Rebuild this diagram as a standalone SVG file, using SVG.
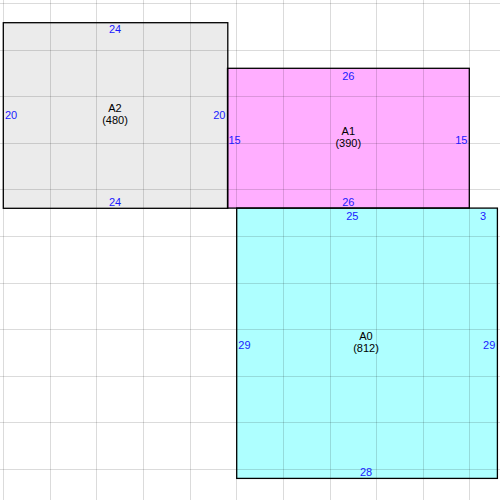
<svg xmlns="http://www.w3.org/2000/svg" width="500" height="500" viewBox="0 0 500 500">
<style>
.fill{stroke:none}
.border{fill:none;stroke:#000;stroke-width:1.3}
.grid line{stroke:#000;stroke-opacity:0.14;stroke-width:1}
text{font-family:"Liberation Sans",Arial,sans-serif;font-size:11px}
.dim{fill:#1a1aff}
.lbl{fill:#000;text-anchor:middle}
</style>
<rect width="500" height="500" fill="#fff"/>
<g id="fills">
<rect class="fill" x="3.3" y="22.7" width="224.5" height="185.6" fill="#ebebeb"/>
<rect class="fill" x="227.5" y="68.3" width="241.8" height="139.8" fill="#ffaeff"/>
<rect class="fill" x="236.7" y="208.1" width="260.7" height="270.3" fill="#aeffff"/>
</g>
<g class="grid">
<line x1="3.5" y1="0" x2="3.5" y2="500"/>
<line x1="50.5" y1="0" x2="50.5" y2="500"/>
<line x1="96.5" y1="0" x2="96.5" y2="500"/>
<line x1="143.5" y1="0" x2="143.5" y2="500"/>
<line x1="190.5" y1="0" x2="190.5" y2="500"/>
<line x1="236.5" y1="0" x2="236.5" y2="500"/>
<line x1="283.5" y1="0" x2="283.5" y2="500"/>
<line x1="330.5" y1="0" x2="330.5" y2="500"/>
<line x1="376.5" y1="0" x2="376.5" y2="500"/>
<line x1="423.5" y1="0" x2="423.5" y2="500"/>
<line x1="469.5" y1="0" x2="469.5" y2="500"/>
<line x1="0" y1="3.5" x2="500" y2="3.5"/>
<line x1="0" y1="50.5" x2="500" y2="50.5"/>
<line x1="0" y1="96.5" x2="500" y2="96.5"/>
<line x1="0" y1="143.5" x2="500" y2="143.5"/>
<line x1="0" y1="189.5" x2="500" y2="189.5"/>
<line x1="0" y1="236.5" x2="500" y2="236.5"/>
<line x1="0" y1="283.5" x2="500" y2="283.5"/>
<line x1="0" y1="329.5" x2="500" y2="329.5"/>
<line x1="0" y1="376.5" x2="500" y2="376.5"/>
<line x1="0" y1="422.5" x2="500" y2="422.5"/>
<line x1="0" y1="469.5" x2="500" y2="469.5"/>
</g>
<g id="A2">
<rect class="border" x="3.3" y="22.7" width="224.5" height="185.6"/>
<text class="dim" x="115" y="33" text-anchor="middle">24</text>
<text class="dim" x="115" y="205.5" text-anchor="middle">24</text>
<text class="dim" x="5" y="119">20</text>
<text class="dim" x="225.5" y="119" text-anchor="end">20</text>
<text class="lbl" x="115" y="112">A2</text>
<text class="lbl" x="115" y="124">(480)</text>
</g>
<g id="A1">
<rect class="border" x="227.5" y="68.3" width="241.8" height="139.8"/>
<text class="dim" x="348.3" y="79.5" text-anchor="middle">26</text>
<text class="dim" x="348.3" y="206" text-anchor="middle">26</text>
<text class="dim" x="228.5" y="143.5">15</text>
<text class="dim" x="467.5" y="143.5" text-anchor="end">15</text>
<text class="lbl" x="348.3" y="135">A1</text>
<text class="lbl" x="348.3" y="147">(390)</text>
</g>
<g id="A0">
<rect class="border" x="236.7" y="208.1" width="260.7" height="270.3"/>
<text class="dim" x="352.3" y="219.5" text-anchor="middle">25</text>
<text class="dim" x="486" y="219.5" text-anchor="end">3</text>
<text class="dim" x="238.3" y="348.5">29</text>
<text class="dim" x="495.3" y="348.5" text-anchor="end">29</text>
<text class="lbl" x="366" y="340">A0</text>
<text class="lbl" x="366" y="352">(812)</text>
<text class="dim" x="366" y="476" text-anchor="middle">28</text>
</g>
</svg>
